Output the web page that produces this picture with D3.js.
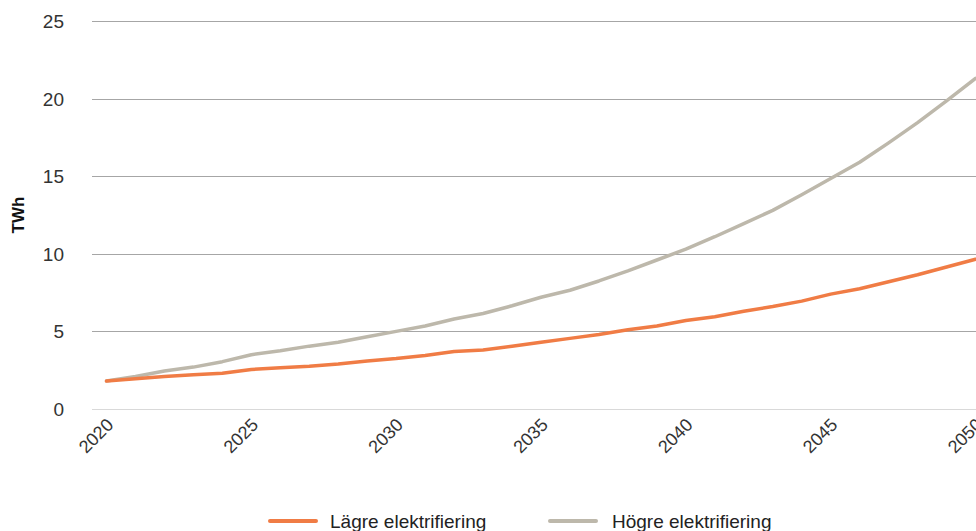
<!DOCTYPE html>
<html>
<head>
<meta charset="utf-8">
<script src="https://cdn.jsdelivr.net/npm/d3@7"></script>
<style>
  body { margin: 0; background: #fff; }
  svg { display: block; font-family: "Liberation Sans", Arial, sans-serif; }
</style>
</head>
<body>
<svg width="976" height="531"></svg>
<script>
// data
const years = d3.range(2020, 2051)
const yTicks = [0, 5, 10, 15, 20, 25]
const xTickYears = [2020, 2025, 2030, 2035, 2040, 2045, 2050]
const lagre = [1.8, 1.95, 2.1, 2.2, 2.3, 2.55, 2.65, 2.75, 2.9, 3.1, 3.25,
  3.45, 3.7, 3.8, 4.05, 4.3, 4.55, 4.8, 5.1, 5.35, 5.7,
  5.95, 6.3, 6.6, 6.95, 7.4, 7.75, 8.2, 8.65, 9.15, 9.65]
const hogre = [1.8, 2.1, 2.45, 2.7, 3.05, 3.5, 3.75, 4.05, 4.3, 4.65, 5.0,
  5.35, 5.8, 6.15, 6.65, 7.2, 7.65, 8.25, 8.9, 9.6, 10.3,
  11.1, 11.95, 12.8, 13.8, 14.85, 15.9, 17.15, 18.45, 19.85, 21.3]
const seriesNames = ["Lägre elektrifiering", "Högre elektrifiering"]
const colors = ["#f07c45", "#bdb8ab"]

let svg = d3.select("svg")
const plotLeft = 92, plotRight = 990, plotTop = 21, plotBottom = 409

let x = d3.scalePoint()
  .domain(years)
  .range([plotLeft, plotRight])
  .padding(0.5)

let y = d3.scaleLinear()
  .domain([0, 25])
  .range([plotBottom, plotTop])

// gridlines
svg.append("g")
  .selectAll("line")
  .data(yTicks)
  .enter()
  .append("line")
  .attr("x1", plotLeft)
  .attr("x2", 976)
  .attr("y1", d => Math.round(y(d)) + 0.5)
  .attr("y2", d => Math.round(y(d)) + 0.5)
  .style("stroke", d => d === 0 ? "#d9d9d9" : "#a6a6a6")
  .style("stroke-width", 1)

// y labels
svg.append("g")
  .selectAll("text")
  .data(yTicks)
  .enter()
  .append("text")
  .attr("x", 64)
  .attr("y", d => y(d) + 7)
  .attr("text-anchor", "end")
  .style("font-size", "19px")
  .style("fill", "#333")
  .text(d => d)

// y title
svg.append("text")
  .attr("transform", "translate(24," + (y(12.5)) + ") rotate(-90)")
  .attr("text-anchor", "middle")
  .style("font-size", "17px")
  .style("font-weight", "bold")
  .style("fill", "#111")
  .text("TWh")

// x labels
svg.append("g")
  .selectAll("text")
  .data(xTickYears)
  .enter()
  .append("text")
  .attr("transform", d => "translate(" + (x(d) + 8) + "," + 426 + ") rotate(-45)")
  .attr("text-anchor", "end")
  .style("font-size", "18px")
  .style("fill", "#333")
  .text(d => d)

// lines
let line = d3.line()
  .x((d, i) => x(years[i]))
  .y(d => y(d))

svg.append("g")
  .selectAll("path")
  .data([hogre, lagre])
  .enter()
  .append("path")
  .attr("d", line)
  .style("fill", "none")
  .style("stroke", (d, i) => i === 0 ? colors[1] : colors[0])
  .style("stroke-width", 3.5)
  .style("stroke-linejoin", "round")
  .style("stroke-linecap", "round")

// legend
let legend = svg.append("g")
  .selectAll("g")
  .data(seriesNames)
  .enter()
  .append("g")
  .attr("transform", (d, i) => "translate(" + (i === 0 ? 270 : 550) + ",521)")

legend.append("line")
  .attr("x1", 0)
  .attr("x2", 46)
  .style("stroke", (d, i) => colors[i])
  .style("stroke-width", 4)
  .style("stroke-linecap", "round")

legend.append("text")
  .attr("x", (d, i) => i === 0 ? 60 : 62)
  .attr("y", 7)
  .style("font-size", "19px")
  .style("fill", "#222")
  .text(d => d)
</script>
</body>
</html>
